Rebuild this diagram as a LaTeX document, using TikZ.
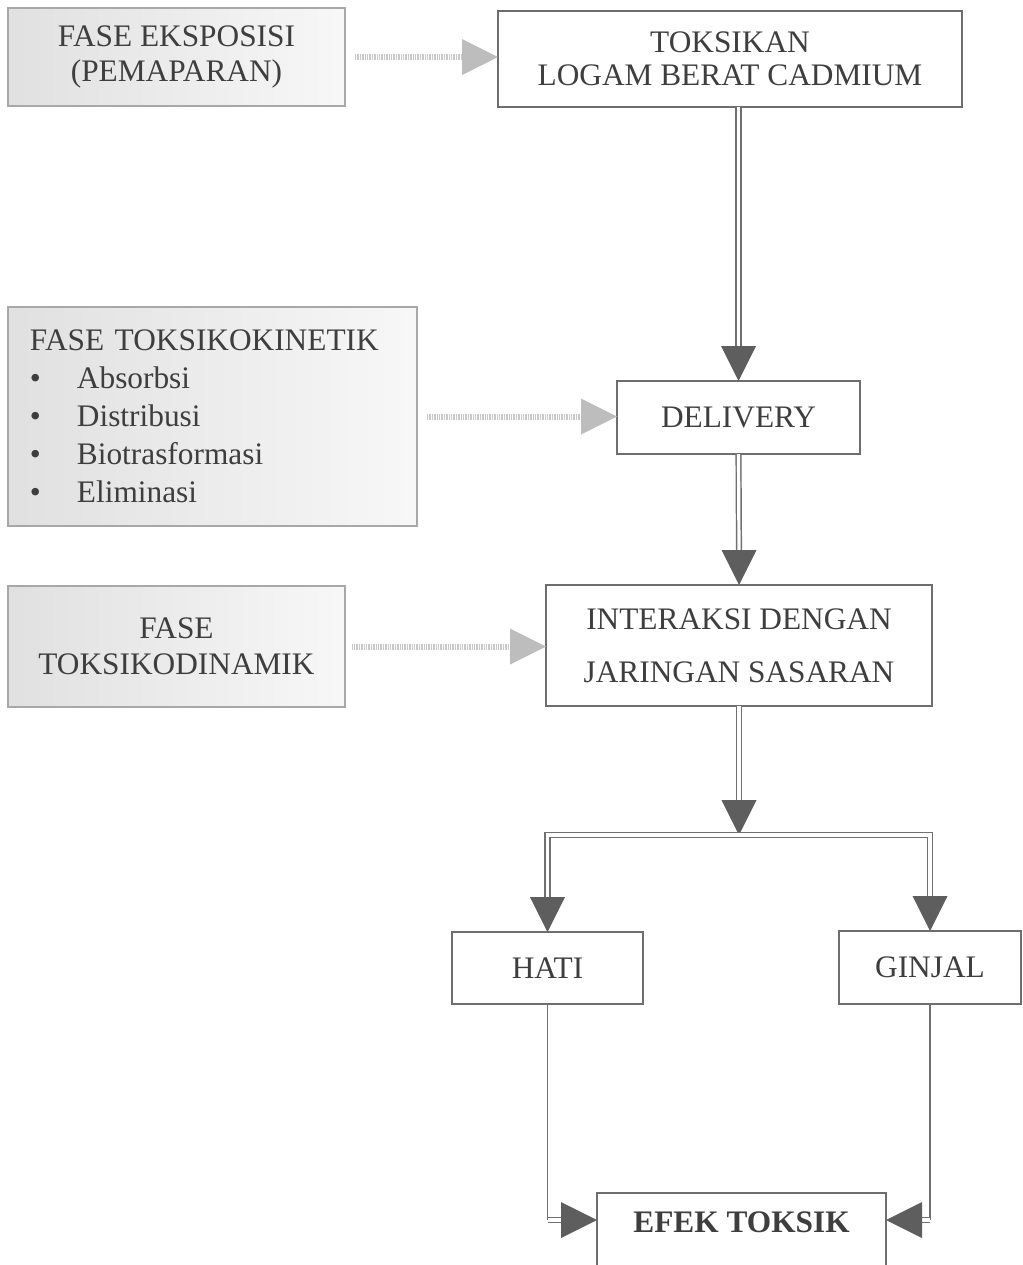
\documentclass[tikz,border=0pt]{standalone}
\usepackage{fontspec}
\setmainfont{Liberation Serif}
\usetikzlibrary{calc}
\definecolor{txt}{HTML}{3E3E3E}
\definecolor{bord}{HTML}{6E6E6E}
\definecolor{lbord}{HTML}{A8A8A8}
\definecolor{conn}{HTML}{707070}
\definecolor{headc}{HTML}{5E5E5E}
\definecolor{lheadc}{HTML}{BDBDBD}
\definecolor{dotc}{HTML}{C8C8C8}
\newcommand\fsz[1]{\fontsize{23.5pt}{#1pt}\selectfont}
\newcommand\headD[1]{\fill[headc] (#1) -- ++(-17.5,-35) -- ++(35,0) -- cycle;}
\newcommand\headR[2]{\fill[#2] (#1) -- ++(-36,-18) -- ++(0,36) -- cycle;}
\newcommand\headL[2]{\fill[#2] (#1) -- ++(36,-18) -- ++(0,36) -- cycle;}
\begin{document}
\begin{tikzpicture}[x=0.75pt,y=-0.75pt,
  sz/.style 2 args={minimum width=#1*0.75pt, minimum height=#2*0.75pt},
  wbox/.style={draw=bord, line width=1.1pt, fill=white, text=txt, inner sep=0pt, outer sep=0pt, align=center},
  gbox/.style={draw=lbord, line width=1.1pt, left color=gray!24, right color=gray!6, text=txt, inner sep=0pt, outer sep=0pt, align=center},
  dbl/.style={draw=conn, line width=1.1pt, double=white, double distance=2.4pt},
  sgl/.style={draw=conn, line width=1.3pt},
  dotln/.style={draw=dotc, line width=4.5pt, dash pattern=on 1pt off 0.8pt},
]
\fill[white] (0,0) rectangle (1023,1265);
\useasboundingbox (0,0) rectangle (1023,1265);
\clip (0,0) rectangle (1023,1265);

% nodes
\node[gbox, sz={337}{98}, font=\fsz{26.25}] (eks) at (176.5,57) {FASE EKSPOSISI\\(PEMAPARAN)};
\node[wbox, sz={464}{96}, font=\fsz{24.75}] (tok) at (730,59) {TOKSIKAN\\LOGAM BERAT CADMIUM};
\node[gbox, sz={409}{219}, font=\fsz{28.5}, text width=273.75pt, align=left] (kin) at (212.5,416.5)
  {FASE TOKSIKOKINETIK\\
   \makebox[35.25pt][l]{•}Absorbsi\\
   \makebox[35.25pt][l]{•}Distribusi\\
   \makebox[35.25pt][l]{•}Biotrasformasi\\
   \makebox[35.25pt][l]{•}Eliminasi};
\node[wbox, sz={243}{73}, font=\fsz{28}] (del) at (738.5,417.5) {DELIVERY};
\node[gbox, sz={337}{121}, font=\fsz{27}] (din) at (176.5,646.5) {FASE\\TOKSIKODINAMIK};
\node[wbox, sz={386}{121}, font=\fsz{39.75}] (int) at (739,645.5) {INTERAKSI DENGAN\\JARINGAN SASARAN};
\node[wbox, sz={191}{72}, font=\fsz{28}] (hati) at (547.5,968) {HATI};
\node[wbox, sz={182}{73}, font=\fsz{28}] (gin) at (930,967.5) {GINJAL};
\node[wbox, sz={289}{100}, font=\fsz{28}\bfseries, text height=10pt, text depth=26pt] (efek) at (741.5,1243) {EFEK TOKSIK};

% dotted phase arrows
\draw[dotln, shorten <=7.5pt, shorten >=26pt] (eks.east) -- (eks.east -| tok.west);
\headR{eks.east -| tok.west}{lheadc}
\draw[dotln, shorten <=7.5pt, shorten >=26pt] (kin.east) -- (kin.east -| del.west);
\headR{kin.east -| del.west}{lheadc}
\draw[dotln, shorten <=5pt, shorten >=26pt] (din.east) -- (din.east -| int.west);
\headR{din.east -| int.west}{lheadc}

% main flow
\draw[dbl] (tok.south -| del.north) -- ($(del.north)+(0,-35)$);
\headD{del.north}
\draw[dbl] (del.south) -- ($(int.north)+(0,-35)$);
\headD{int.north}
\coordinate (br) at ($(int.south)+(0,129)$);
\draw[dbl] (int.south) -- ($(br)+(0,-35)$);
\headD{br}
\draw[dbl] ($(hati.north)+(0,-35)$) |- (br) -| ($(gin.north)+(0,-35)$);
\headD{hati.north}
\headD{gin.north}

% to efek toksik
\coordinate (tL) at ($(efek.north west)+(0,27)$);
\coordinate (tR) at ($(efek.north east)+(0,27)$);
\draw[sgl] (hati.south) -- (hati.south |- tL);
\draw[dbl] (hati.south |- tL) -- ($(tL)+(-35,0)$);
\headR{tL}{headc}
\draw[sgl] (gin.south) -- (gin.south |- tR);
\draw[dbl] (gin.south |- tR) -- ($(tR)+(35,0)$);
\headL{tR}{headc}
\end{tikzpicture}
\end{document}
